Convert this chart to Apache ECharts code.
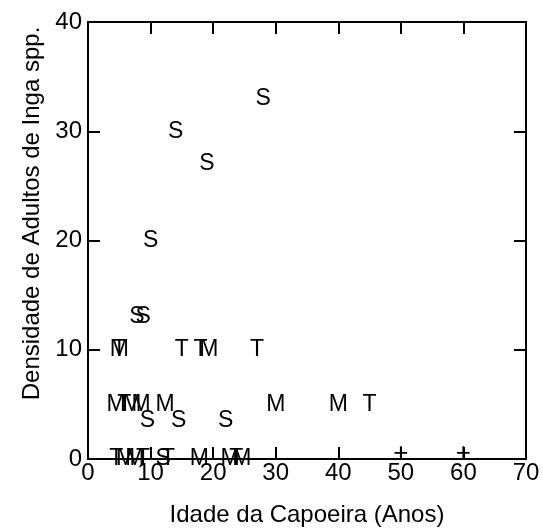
<!DOCTYPE html>
<html>
<head>
<meta charset="utf-8">
<script src="https://cdn.jsdelivr.net/npm/echarts@6/dist/echarts.min.js"></script>
<style>
  html, body { margin: 0; padding: 0; background: #fff; }
  #chart { width: 543px; height: 532px; }
</style>
</head>
<body>
<div id="chart"></div>
<script>
// idade (anos), densidade - one array per letter used as plot symbol
const sPoints = [[28, 33], [14, 30], [19, 27], [10, 20], [7.8, 13], [8.8, 13],
  [9.5, 3.5], [14.5, 3.5], [22, 3.5], [12, 0]];
const tPoints = [[5, 10], [15, 10], [18, 10], [27, 10], [5.8, 5], [45, 5],
  [4.5, 0], [8.8, 0], [12.8, 0], [23.7, 0]];
const mPoints = [[5, 10], [19.3, 10], [4.5, 5], [7, 5], [8.5, 5], [12.3, 5], [30, 5], [40, 5],
  [6, 0], [7.5, 0], [17.8, 0], [22.7, 0], [24.6, 0]];
const plusPoints = [[50, 0.5], [60, 0.5]];

const xTicks = [0, 10, 20, 30, 40, 50, 60, 70];
const yTicks = [0, 10, 20, 30, 40];

const xTitle = "Idade da Capoeira (Anos)";
const yTitle = "Densidade de Adultos de Inga spp.";

const font = '"Liberation Sans", Arial, Helvetica, sans-serif';

const letterSeries = (letter, points, size) => ({
  type: "scatter",
  data: points,
  symbolSize: 0,
  itemStyle: { color: "#000" },
  label: {
    show: true,
    position: "inside",
    formatter: letter,
    color: "#000",
    opacity: 1,
    textBorderWidth: 0,
    fontFamily: font,
    fontSize: size,
  },
  emphasis: { disabled: true },
  silent: true,
});

const axisBase = {
  type: "value",
  interval: 10,
  axisLine: { show: true, onZero: false, lineStyle: { color: "#000", width: 2 } },
  axisTick: { show: true, inside: true, length: 12, lineStyle: { color: "#000", width: 2 } },
  splitLine: { show: false },
};

var myChart = echarts.init(document.getElementById("chart"));

var option = {
  animation: false,
  backgroundColor: "#fff",
  grid: { left: 88, right: 17, top: 22, bottom: 72 },
  xAxis: [
    {
      ...axisBase,
      position: "bottom",
      min: xTicks[0],
      max: xTicks[xTicks.length - 1],
      name: xTitle,
      nameLocation: "middle",
      nameGap: 44,
      nameTextStyle: { color: "#000", fontFamily: font, fontSize: 24 },
      axisLabel: { color: "#000", fontFamily: font, fontSize: 24, margin: 2 },
    },
    {
      ...axisBase,
      position: "top",
      min: xTicks[0],
      max: xTicks[xTicks.length - 1],
      axisLabel: { show: false },
    },
  ],
  yAxis: [
    {
      ...axisBase,
      position: "left",
      min: yTicks[0],
      max: yTicks[yTicks.length - 1],
      name: yTitle,
      nameLocation: "middle",
      nameGap: 43,
      nameTextStyle: { color: "#000", fontFamily: font, fontSize: 24, padding: [0, 0, 0, 54] },
      axisLabel: { color: "#000", fontFamily: font, fontSize: 24, margin: 6 },
    },
    {
      ...axisBase,
      position: "right",
      min: yTicks[0],
      max: yTicks[yTicks.length - 1],
      axisLabel: { show: false },
    },
  ],
  series: [
    letterSeries("S", sPoints, 23),
    letterSeries("T", tPoints, 23),
    letterSeries("M", mPoints, 23),
    letterSeries("+", plusPoints, 26),
  ],
};

option && myChart.setOption(option);
</script>
</body>
</html>
